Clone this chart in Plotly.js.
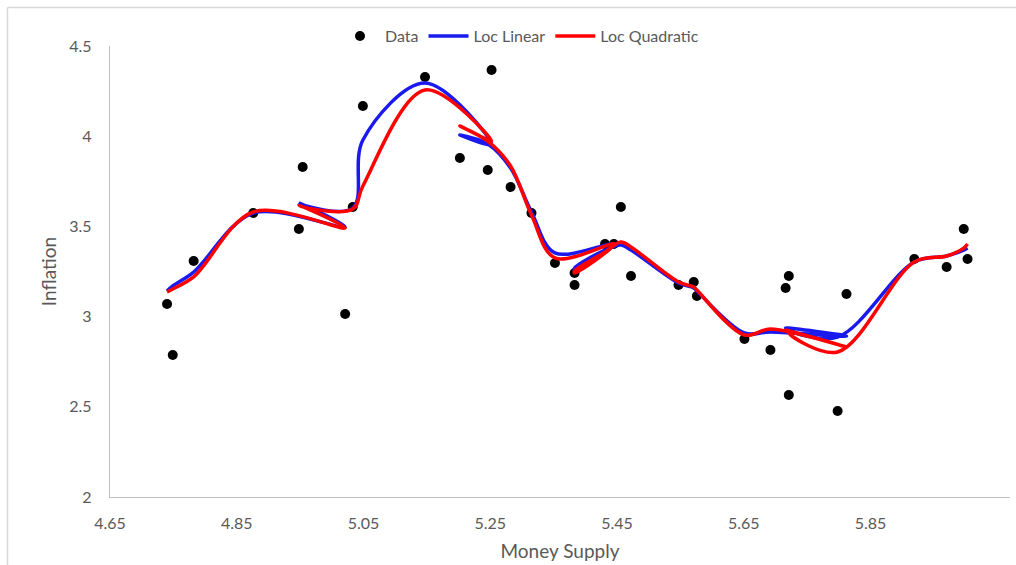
<!DOCTYPE html>
<html>
<head>
<meta charset="utf-8">
<script src="https://cdn.plot.ly/plotly-3.0.1.min.js"></script>
<style>html,body{margin:0;padding:0;background:#fff;}#chart{width:1016px;height:565px;}</style>
</head>
<body>
<div id="chart"></div>
<script>
// Observed data (Money Supply vs Inflation)
var dataX = [4.740, 4.749, 4.782, 4.876, 4.948, 4.954, 5.021, 5.033, 5.049, 5.147,
             5.202, 5.246, 5.252, 5.282, 5.315, 5.352, 5.383, 5.383, 5.431, 5.445,
             5.456, 5.472, 5.547, 5.571, 5.576, 5.651, 5.692, 5.716, 5.721, 5.721,
             5.798, 5.812, 5.919, 5.970, 5.997, 6.003];
var dataY = [3.070, 2.787, 3.308, 3.574, 3.486, 3.829, 3.014, 3.608, 4.167, 4.328,
             3.879, 3.813, 4.367, 3.718, 3.574, 3.297, 3.242, 3.175, 3.402, 3.402,
             3.608, 3.225, 3.175, 3.192, 3.114, 2.876, 2.815, 3.159, 3.225, 2.565,
             2.477, 3.125, 3.319, 3.275, 3.486, 3.319];

// Fitted curves, in the order the points are joined
var fitX = [4.740, 4.749, 4.782, 4.876, 5.021, 4.948, 4.954, 5.033, 5.049, 5.147,
            5.252, 5.202, 5.246, 5.282, 5.315, 5.352, 5.445, 5.383, 5.383, 5.431,
            5.456, 5.472, 5.547, 5.571, 5.576, 5.651, 5.692, 5.812, 5.716, 5.721,
            5.721, 5.798, 5.919, 5.970, 5.997, 6.003];
var locLinearY = [3.142, 3.170, 3.247, 3.574, 3.497, 3.630, 3.619, 3.602, 3.979, 4.295,
                  3.951, 4.007, 3.957, 3.824, 3.580, 3.353, 3.402, 3.258, 3.269, 3.369,
                  3.397, 3.369, 3.186, 3.159, 3.142, 2.909, 2.915, 2.892, 2.937, 2.931,
                  2.926, 2.887, 3.303, 3.336, 3.369, 3.380];
var locQuadY = [3.136, 3.153, 3.220, 3.580, 3.491, 3.619, 3.608, 3.596, 3.724, 4.256,
                3.973, 4.057, 3.973, 3.835, 3.563, 3.325, 3.402, 3.242, 3.253, 3.358,
                3.414, 3.386, 3.192, 3.164, 3.147, 2.898, 2.931, 2.831, 2.926, 2.920,
                2.909, 2.804, 3.303, 3.336, 3.380, 3.402];

var xTickVals = [4.65, 4.85, 5.05, 5.25, 5.45, 5.65, 5.85];
var xTickText = ['4.65', '4.85', '5.05', '5.25', '5.45', '5.65', '5.85'];
var yTickVals = [2, 2.5, 3, 3.5, 4, 4.5];
var yTickText = ['2', '2.5', '3', '3.5', '4', '4.5'];

var font = 'Lato, "Open Sans", sans-serif';
var grey = '#595959';

var traces = [
  {x: dataX, y: dataY, type: 'scatter', mode: 'markers', name: 'Data',
   marker: {color: '#000000', size: 10}},
  {x: fitX, y: locLinearY, type: 'scatter', mode: 'lines', name: 'Loc Linear',
   line: {color: '#1a1aee', width: 3.5, shape: 'spline', smoothing: 1}},
  {x: fitX, y: locQuadY, type: 'scatter', mode: 'lines', name: 'Loc Quadratic',
   line: {color: '#ff0000', width: 3.5, shape: 'spline', smoothing: 1}}
];

var layout = {
  width: 1016, height: 565,
  margin: {l: 110, r: 6, t: 46, b: 68},
  paper_bgcolor: '#ffffff', plot_bgcolor: '#ffffff',
  font: {family: font, color: grey, size: 16},
  showlegend: true,
  legend: {orientation: 'h', x: 0.455, xanchor: 'center', y: 1.022, yanchor: 'middle',
           itemwidth: 40,
           font: {family: font, size: 16, color: grey}, bgcolor: 'rgba(0,0,0,0)'},
  xaxis: {range: [4.65, 6.07], tickvals: xTickVals, ticktext: xTickText,
          showline: true, linecolor: '#BFBFBF', linewidth: 1.3, showgrid: false, zeroline: false,
          ticks: '', ticklabelstandoff: 12, tickfont: {family: font, size: 16, color: grey},
          title: {text: 'Money Supply', font: {family: font, size: 19, color: grey}, standoff: 13}},
  yaxis: {range: [2, 4.5], tickvals: yTickVals, ticktext: yTickText,
          showline: true, linecolor: '#BFBFBF', linewidth: 1.3, showgrid: false, zeroline: false,
          ticks: '', ticklabelstandoff: 14, tickfont: {family: font, size: 16, color: grey},
          title: {text: 'Inflation', font: {family: font, size: 19, color: grey}, standoff: 7}},
  shapes: [
    {type: 'line', xref: 'paper', yref: 'paper', x0: -0.1139, x1: -0.1139, y0: 1.0854, y1: -0.2,
     line: {color: '#D9D9D9', width: 1.5}, layer: 'below'},
    {type: 'line', xref: 'paper', yref: 'paper', x0: -0.1139, x1: 1.05, y0: 1.0854, y1: 1.0854,
     line: {color: '#D9D9D9', width: 1.5}, layer: 'below'}
  ]
};

Plotly.newPlot('chart', traces, layout, {displayModeBar: false, responsive: false});
</script>
</body>
</html>
